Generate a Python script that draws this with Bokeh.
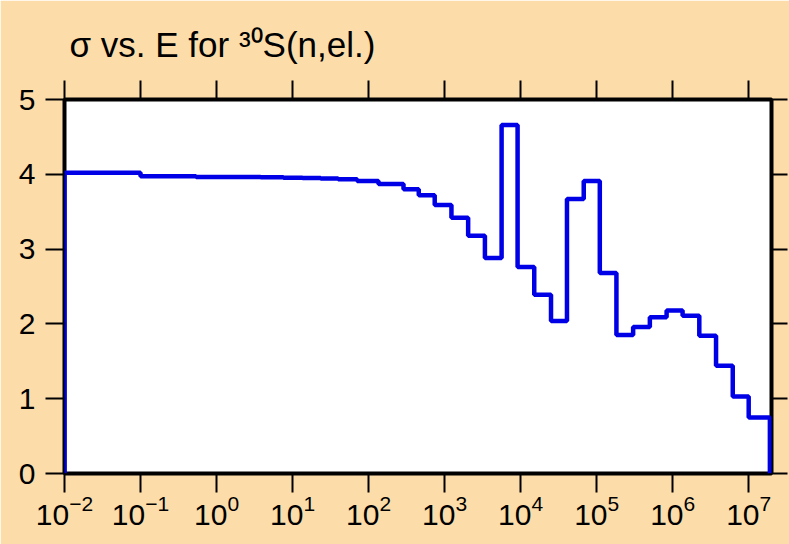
from bokeh.plotting import figure
from bokeh.models import LogAxis, LinearAxis, FixedTicker, Range1d
from bokeh.embed import file_html
from bokeh.resources import INLINE

# Energy group boundaries (eV) and elastic cross section (b) per group
edges = [1.0e-2, 0.1, 0.537, 3.8, 7.59, 13.5, 23.4, 39.8, 70.8, 135, 288, 457, 741,
         1230, 2040, 3390, 5620, 9120, 15100, 25100, 40700, 67600, 1.10e5, 1.82e5,
         3.02e5, 5.01e5, 8.32e5, 1.35e6, 2.24e6, 3.72e6, 6.17e6, 1.0e7, 1.9e7]
sigma = [4.02, 3.975, 3.965, 3.96, 3.955, 3.95, 3.945, 3.935,
         3.91, 3.87, 3.80, 3.72, 3.59, 3.42, 3.18, 2.88,
         4.66, 2.76, 2.39, 2.04, 3.67, 3.91, 2.68, 1.85,
         1.96, 2.09, 2.18, 2.11, 1.84, 1.44, 1.03, 0.75]
x_ticks = [1e-2, 1e-1, 1e0, 1e1, 1e2, 1e3, 1e4, 1e5, 1e6, 1e7]
y_ticks = [0, 1, 2, 3, 4, 5]
title_text = "σ vs. E for ³⁰S(n,el.)"

BG = "#FCDDAA"
FONT = "Liberation Sans"

# step path
xs = [edges[0]]
ys = [0]
for i, v in enumerate(sigma):
    xs += [edges[i], edges[i + 1]]
    ys += [v, v]
xs.append(edges[-1])
ys.append(0)

p = figure(width=789, height=544, x_axis_type="log",
           x_range=Range1d(1e-2, 10 ** 7.30), y_range=Range1d(0, 5),
           output_backend="svg", toolbar_location=None,
           min_border_left=64, min_border_right=18, min_border_top=99, min_border_bottom=71)
p.background_fill_color = "white"
p.border_fill_color = BG
p.outline_line_color = "black"
p.outline_line_width = 4
p.grid.visible = False

p.line(xs, ys, line_color="#0000E6", line_width=4.5)

def style(ax, tick_out=19):
    ax.axis_line_color = None
    ax.major_tick_in = 0
    ax.major_tick_out = tick_out
    ax.major_tick_line_width = 2
    ax.major_tick_line_color = "black"
    ax.minor_tick_line_color = None
    ax.major_label_text_font = FONT
    ax.major_label_text_color = "black"
    ax.major_label_text_font_size = "30px"

xa = p.xaxis[0]
xa.ticker = FixedTicker(ticks=x_ticks, minor_ticks=[])
style(xa)
xa.major_label_standoff = 2

ya = p.yaxis[0]
ya.ticker = FixedTicker(ticks=y_ticks, minor_ticks=[])
style(ya)
ya.major_label_standoff = 10

top = LogAxis(ticker=FixedTicker(ticks=x_ticks, minor_ticks=[]))
style(top)
top.major_label_overrides = {t: "" for t in x_ticks}
top.major_label_text_font_size = "1px"
top.major_label_standoff = 0
p.add_layout(top, "above")

right = LinearAxis(ticker=FixedTicker(ticks=y_ticks, minor_ticks=[]))
style(right, tick_out=16)
right.major_label_overrides = {t: "" for t in y_ticks}
right.major_label_text_font_size = "1px"
right.major_label_standoff = 0
p.add_layout(right, "right")

p.title.text = title_text
p.title.text_font = FONT
p.title.text_font_size = "35px"
p.title.text_font_style = "normal"
p.title.text_color = "black"
p.title.align = "left"
p.title.offset = 5
p.title.standoff = 34

open("out.html", "w").write(file_html(p, INLINE))
